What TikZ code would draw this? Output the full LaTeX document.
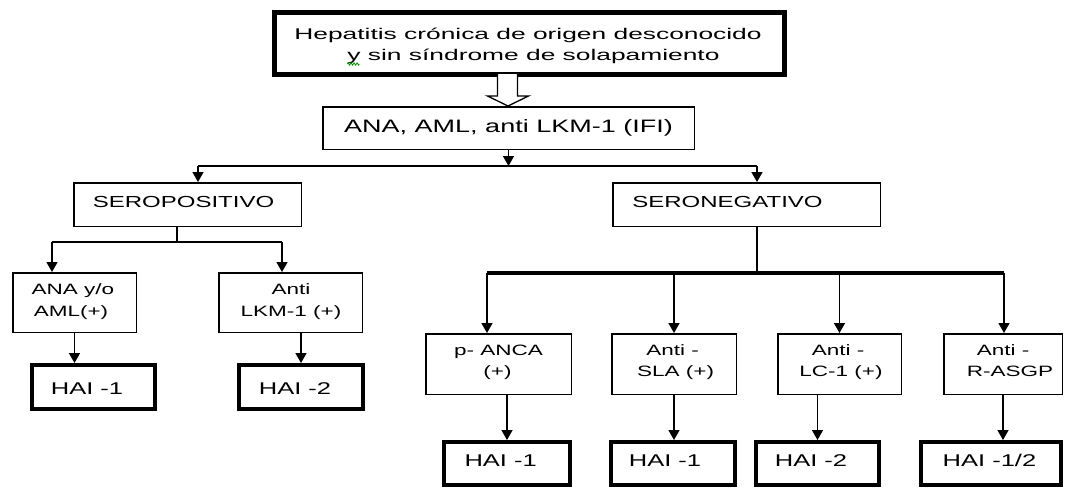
\documentclass[tikz,border=0pt]{standalone}
\usepackage{fontspec}
\setmainfont{Liberation Sans}[FakeStretch=1.5]
\newfontfamily\topfont{Liberation Sans}[FakeStretch=1.7]
\usetikzlibrary{arrows.meta,calc,decorations.pathmorphing}
\begin{document}
\begin{tikzpicture}[x=1pt,y=-1pt,
  thinbox/.style={draw=black,line width=1.5pt,rectangle,inner sep=0pt,fill=white},
  thickbox/.style={draw=black,line width=4pt,rectangle,inner sep=0pt,fill=white},
  topbox/.style={draw=black,line width=5pt,rectangle,inner sep=0pt,fill=white},
  lbl/.style={inner sep=0pt,anchor=base,text=black},
  conn/.style={draw=black,line width=1.4pt},
  arr/.style={conn,-{Triangle[width=11pt,length=10pt]}},
  hollow/.style={draw=black,line width=1.3pt,fill=white,line join=miter},
  fs/.style={font=\fontsize{15}{18}\selectfont},
  fm/.style={font=\fontsize{16}{19}\selectfont},
  fh/.style={font=\fontsize{17}{20}\selectfont},
  fl/.style={font=\fontsize{18}{21}\selectfont}
]
\useasboundingbox (0,0) rectangle (1065,491);
\fill[white] (0,0) rectangle (1065,491);

% boxes
\node[topbox,minimum width=510pt,minimum height=62pt] (top) at (529.5,43.5) {};
\node[thinbox,minimum width=371.5pt,minimum height=42.5pt] (ana) at (508.5,128) {};
\node[thinbox,minimum width=227.5pt,minimum height=43.5pt] (spos) at (187.5,204.5) {};
\node[thinbox,minimum width=267.5pt,minimum height=43.5pt] (sneg) at (746.5,204.5) {};
\node[thinbox,minimum width=123.5pt,minimum height=59.5pt] (anaaml) at (74.5,302.5) {};
\node[thinbox,minimum width=143.5pt,minimum height=59.5pt] (lkm) at (290.5,302.5) {};
\node[thickbox,minimum width=123pt,minimum height=44pt] (haiL1) at (93.5,387) {};
\node[thickbox,minimum width=124pt,minimum height=44pt] (haiL2) at (301,387) {};
\node[thinbox,minimum width=145.5pt,minimum height=60.5pt] (panca) at (498.5,364) {};
\node[thinbox,minimum width=124.5pt,minimum height=60.5pt] (sla) at (674,364) {};
\node[thinbox,minimum width=123.5pt,minimum height=60.5pt] (lc) at (839.5,364) {};
\node[thinbox,minimum width=118.5pt,minimum height=60.5pt] (rasgp) at (1003,364) {};
\node[thickbox,minimum width=126pt,minimum height=43pt] (haiA) at (507,463.5) {};
\node[thickbox,minimum width=124pt,minimum height=43pt] (haiB) at (673,463.5) {};
\node[thickbox,minimum width=123pt,minimum height=43pt] (haiC) at (817.5,463.5) {};
\node[thickbox,minimum width=140pt,minimum height=43pt] (haiD) at (991,463.5) {};

% junction coordinates
\coordinate (j1) at (508.5,166);
\coordinate (jL) at (198,166);
\coordinate (jR) at (757,166);
\coordinate (j2) at (177,242);
\coordinate (j2L) at (52,242);
\coordinate (j2R) at (282,242);
\coordinate (j3) at (757,273);
\coordinate (j3L) at (487,273);
\coordinate (j3R) at (1004,273);

% hollow arrow from top box to ANA box
\draw[hollow] ($(top.south)+(-22,-3)$) ++(-10,0) -- ++(0,22) -- ++(-10,0)
  -- ++(20.5,10) -- ++(20.5,-10) -- ++(-11,0) -- ++(0,-22);

% connectors
\draw[arr] (ana.south) -- (j1);
\draw[conn] (jL) -- (jR);
\draw[arr] (jL) -- (jL |- spos.north);
\draw[arr] (jR) -- (jR |- sneg.north);

\draw[conn] (j2 |- spos.south) -- (j2);
\draw[conn] (j2L) -- (j2R);
\draw[arr] (j2L) -- (j2L |- anaaml.north);
\draw[arr] (j2R) -- (j2R |- lkm.north);
\draw[arr] (anaaml.south) -- (anaaml.south |- haiL1.north);
\draw[arr] (haiL2.north |- lkm.south) -- (haiL2.north);

\draw[conn] (j3 |- sneg.south) -- (j3);
\draw[conn,line width=3.2pt] (j3L) -- (j3R);
\draw[arr] (j3L) -- (j3L |- panca.north);
\draw[arr] (sla.north |- j3) -- (sla.north);
\draw[arr] (lc.north |- j3) -- (lc.north);
\draw[arr] (j3R) -- (j3R |- rasgp.north);
\draw[arr] (haiA.north |- panca.south) -- (haiA.north);
\draw[arr] (sla.south) -- (sla.south |- haiB.north);
\draw[arr] (haiC.north |- lc.south) -- (haiC.north);
\draw[arr] (rasgp.south) -- (rasgp.south |- haiD.north);

% texts
\node[lbl,font=\topfont\fontsize{15.5}{18}\selectfont] (t1a) at (528,39) {Hepatitis crónica de origen desconocido};
\node[lbl,font=\topfont\fontsize{15.5}{18}\selectfont] (t1b) at (533.5,60) {y sin síndrome de solapamiento};
\draw[green!60!black,line width=0.8pt,decorate,decoration={zigzag,segment length=3pt,amplitude=1.2pt}]
  ($(t1b.base west)+(0,4)$) -- ($(t1b.base west)+(12,4)$);
\node[lbl,fl] (tana) at (508.5,132) {ANA, AML, anti LKM-1 (IFI)};
\node[lbl,fm] (tspos) at (183.5,207) {SEROPOSITIVO};
\node[lbl,fm] (tsneg) at (727.5,207) {SERONEGATIVO};
\node[lbl,fs] (taa1) at (73,294) {ANA y/o};
\node[lbl,fs] (taa2) at (71,316) {AML(+)};
\node[lbl,fs] (tlk1) at (291,294) {Anti};
\node[lbl,fs] (tlk2) at (291,316) {LKM-1 (+)};
\node[lbl,fh] (thl1) at (87,394) {HAI -1};
\node[lbl,fh] (thl2) at (295,394) {HAI -2};
\node[lbl,fs] (tpa1) at (498.6,355) {p- ANCA};
\node[lbl,fs] (tpa2) at (497.5,376) {(+)};
\node[lbl,fs] (tsl1) at (672.5,355) {Anti -};
\node[lbl,fs] (tsl2) at (675.6,376) {SLA (+)};
\node[lbl,fs] (tlc1) at (838,355) {Anti -};
\node[lbl,fs] (tlc2) at (841,376) {LC-1 (+)};
\node[lbl,fs] (tra1) at (1003,355) {Anti -};
\node[lbl,fs] (tra2) at (1010,376) {R-ASGP};
\node[lbl,fh] (tha) at (500.7,466) {HAI -1};
\node[lbl,fh] (thb) at (665,466) {HAI -1};
\node[lbl,fh] (thc) at (811,466) {HAI -2};
\node[lbl,fh] (thd) at (989.5,466) {HAI -1/2};
\end{tikzpicture}
\end{document}
